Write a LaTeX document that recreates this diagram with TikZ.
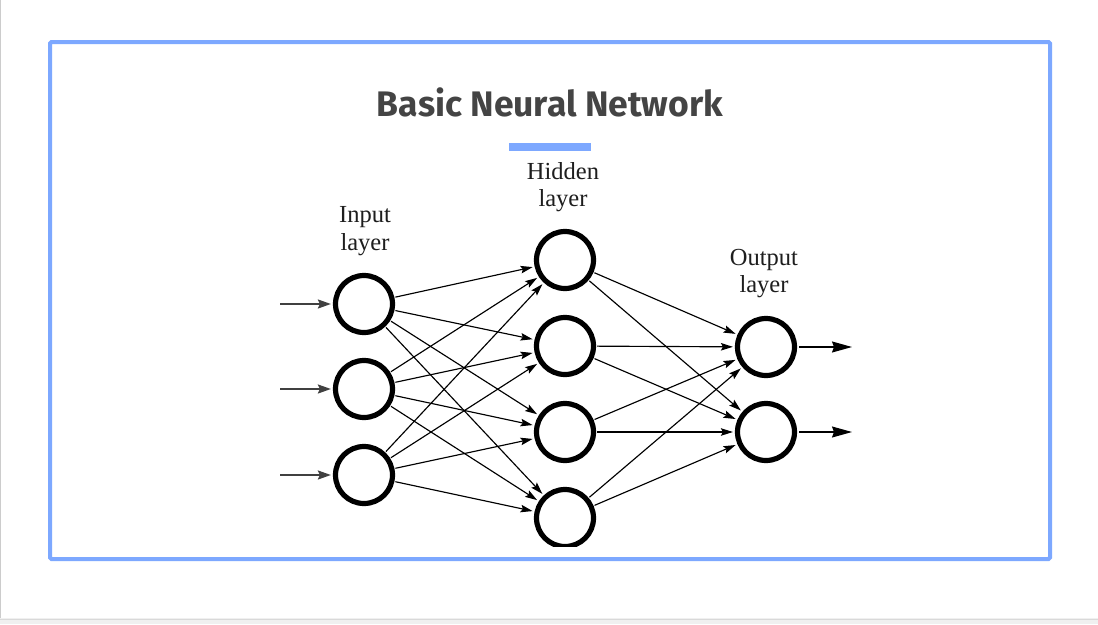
\documentclass[tikz,border=0pt]{standalone}
\usepackage{fontspec}
\setmainfont{Liberation Serif}
\newfontfamily\titlefont{Fira Sans}
\usetikzlibrary{arrows.meta}
\definecolor{bluebox}{RGB}{125,168,255}
\definecolor{titlegray}{RGB}{68,68,68}
\definecolor{labelgray}{RGB}{30,30,30}
\tikzset{
  neuron/.style={circle,draw=black,line width=5.2pt,minimum size=57pt,inner sep=0pt,fill=white},
  conn/.style={line width=1.15pt,-{Stealth[length=12pt,width=7.5pt,inset=2pt]},shorten >=2pt,shorten <=1pt},
  inarrow/.style={draw=black!75,line width=2pt,-{Stealth[length=13pt,width=9pt,inset=2pt]},shorten >=2pt},
  outarrow/.style={line width=1.3pt,-{Stealth[length=20pt,width=11pt,inset=2pt]},shorten <=2pt},
  lbl/.style={anchor=base,inner sep=0pt,text=labelgray,font=\fontsize{24.5}{28}\selectfont},
}
\begin{document}
\begin{tikzpicture}[x=1pt,y=-1pt]
\useasboundingbox (0,0) rectangle (1098,624);
\fill[white] (0,0) rectangle (1098,624);
\fill[black!6] (0,618) rectangle (1098,624);
\draw[black!15,line width=1pt] (0,619) -- (1098,619);
\draw[black!20,line width=1pt] (0.5,0) -- (0.5,618);
\draw[bluebox,line width=4pt,rounded corners=1.5pt] (50,42) rectangle (1050,559);
\node[anchor=base,inner sep=0pt,text=titlegray,font=\titlefont\bfseries\fontsize{35.5}{38}\selectfont] (title) at (550,116.5) {Basic Neural Network};
\fill[bluebox] (509,142.5) rectangle (591,150.5);
\begin{scope}
\clip (260,150) rectangle (880,546);
\node[neuron] (i1) at (364,304) {};
\node[neuron] (i2) at (364,389) {};
\node[neuron] (i3) at (364,475) {};
\node[neuron] (h1) at (565,260) {};
\node[neuron] (h2) at (565,346) {};
\node[neuron] (h3) at (565,432) {};
\node[neuron] (h4) at (565,518) {};
\node[neuron] (o1) at (766,347) {};
\node[neuron] (o2) at (766,432) {};
\coordinate (s1) at (280,304);
\coordinate (s2) at (280,389);
\coordinate (s3) at (280,475);
\coordinate (e1) at (852,347);
\coordinate (e2) at (852,432);
\foreach \i in {1,2,3}{
  \draw[inarrow] (s\i) -- (i\i);
  \foreach \h in {1,2,3,4}{
    \draw[conn] (i\i) -- (h\h);
  }
}
\foreach \h in {1,2,3,4}{
  \foreach \o in {1,2}{
    \draw[conn] (h\h) -- (o\o);
  }
}
\draw[outarrow] (o1) -- (e1);
\draw[outarrow] (o2) -- (e2);
\end{scope}
\node[lbl] (inl1) at (365,222) {Input};
\node[lbl] (inl2) at (365,250.5) {layer};
\node[lbl] (hdl1) at (563,179) {Hidden};
\node[lbl] (hdl2) at (563,206) {layer};
\node[lbl] (oul1) at (764,265) {Output};
\node[lbl] (oul2) at (764,292) {layer};
\end{tikzpicture}
\end{document}
